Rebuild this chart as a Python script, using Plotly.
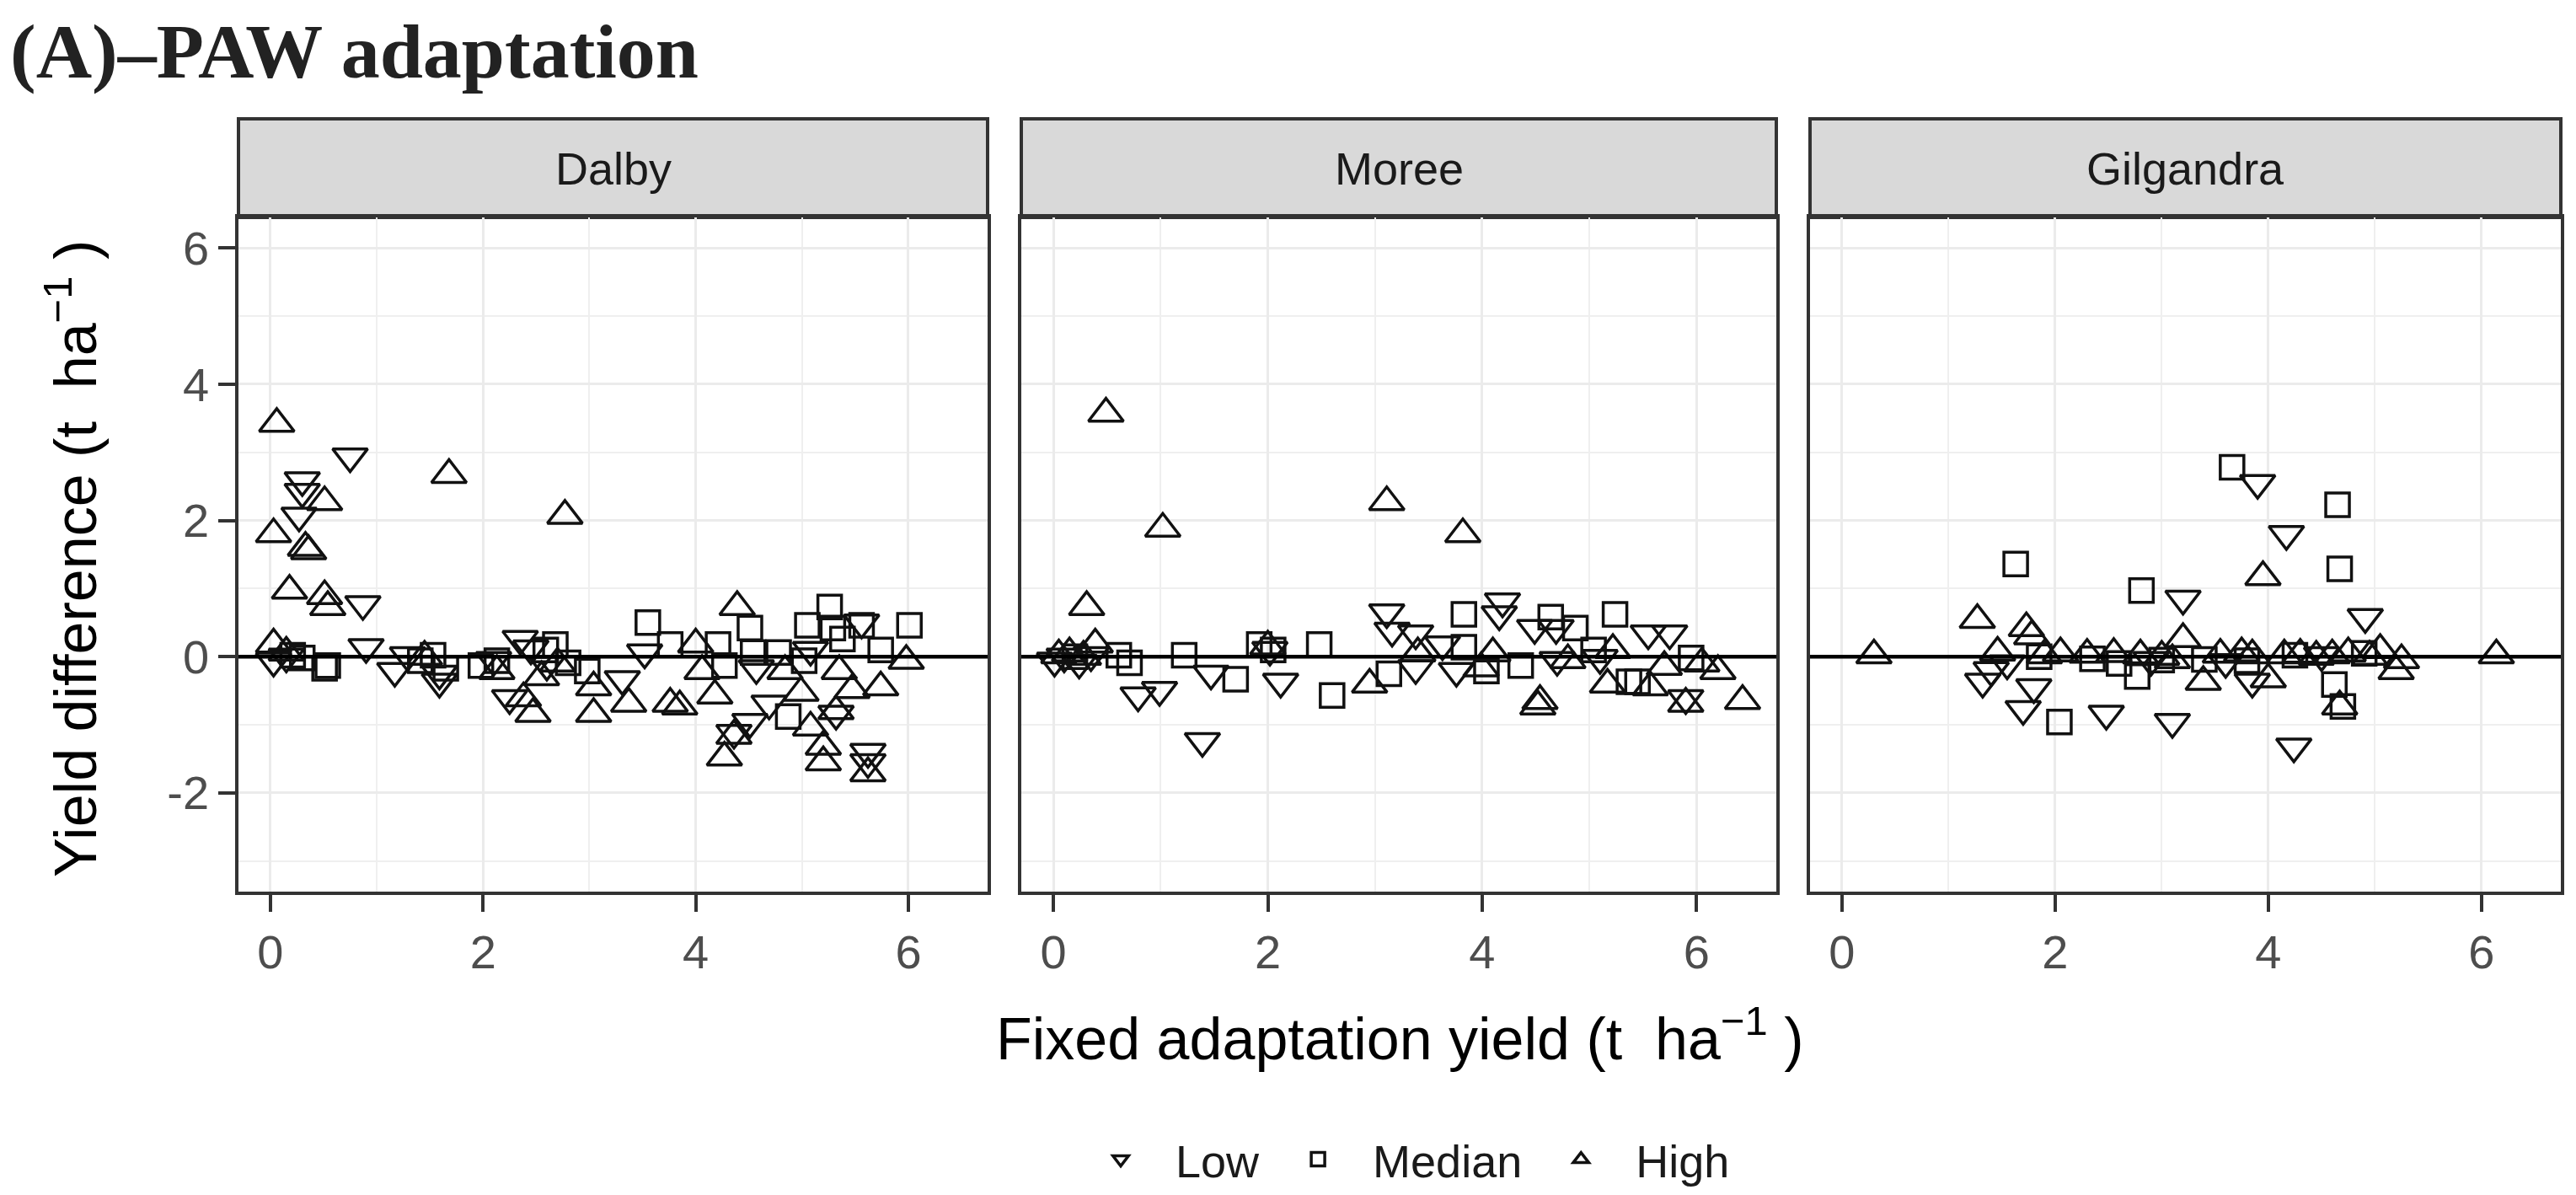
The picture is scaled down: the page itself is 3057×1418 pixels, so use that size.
import plotly.graph_objects as go
from plotly.subplots import make_subplots

# ===== DATA =====
sites = ["Dalby", "Moree", "Gilgandra"]
groups = ["Low", "Median", "High"]
x_ticks = [0, 2, 4, 6]
y_ticks = [-2, 0, 2, 4, 6]
y_tick_labels = ["-2", "0", "2", "4", "6"]

dalby_low_x = [0.03, 0.27, 0.30, 0.30, 0.75, 0.87, 0.90, 1.17, 1.29, 1.59, 1.59, 2.25, 2.35, 2.45,
               3.31, 3.52, 4.57, 4.51, 4.36, 4.69, 5.32, 5.62, 5.62, 0.15, 2.10, 2.60, 5.08, 5.56]
dalby_low_y = [-0.06, 2.07, 2.59, 2.42, 2.94, 0.77, 0.14, -0.21, 0.02, -0.25, -0.37, -0.61, 0.26, 0.12,
               -0.33, 0.06, -0.17, -0.96, -1.12, -0.69, -0.84, -1.40, -1.55, 0.00, -0.05, -0.12, 0.10, 0.50]
dalby_med_x = [0.21, 0.30, 0.51, 0.54, 1.41, 1.53, 1.65, 1.98, 2.13, 2.59, 2.68, 2.80, 2.98, 3.55, 3.76,
               4.21, 4.27, 4.51, 4.54, 4.78, 4.87, 5.02, 5.05, 5.26, 5.29, 5.38, 5.56, 5.74, 6.01]
dalby_med_y = [0.02, -0.02, -0.17, -0.13, -0.06, 0.02, -0.17, -0.13, -0.06, 0.10, 0.18, -0.09, -0.21, 0.50, 0.18,
               0.18, -0.13, 0.42, 0.06, 0.06, -0.88, -0.06, 0.46, 0.73, 0.42, 0.26, 0.46, 0.10, 0.46]
dalby_high_x = [0.06, 0.03, 0.18, 0.33, 0.36, 0.51, 0.51, 0.54, 0.03, 0.15, 1.68, 2.77, 2.13, 2.38, 2.47,
                2.55, 3.04, 3.04, 3.37, 3.76, 3.85, 4.00, 4.06, 4.18, 4.27, 4.36, 4.39, 4.84, 4.99, 5.08,
                5.20, 5.20, 5.32, 5.35, 5.47, 5.62, 5.74, 5.98, 2.70, 1.45]
dalby_high_y = [3.42, 1.80, 0.97, 1.60, 1.55, 2.27, 0.89, 0.73, 0.18, 0.06, 2.67, 2.07, -0.21, -0.61, -0.84,
                -0.30, -0.84, -0.45, -0.69, -0.69, -0.73, 0.18, -0.21, -0.57, -1.48, -1.16, 0.73, -0.21, -0.53, -1.04,
                -1.32, -1.55, -0.80, -0.21, -0.49, -1.71, -0.45, -0.06, -0.10, 0.00]

moree_low_x = [0.01, 0.24, 0.79, 0.99, 1.39, 1.47, 2.12, 3.11, 3.16, 3.38, 3.38, 3.63, 3.76, 4.16, 4.19,
               4.49, 4.69, 4.70, 5.55, 5.75, 5.90, 0.10, 0.35, 2.02, 5.10]
moree_low_y = [-0.06, -0.09, -0.57, -0.49, -1.24, -0.25, -0.37, 0.65, 0.38, 0.34, -0.17, 0.18, -0.21, 0.62, 0.81,
               0.42, 0.42, -0.05, 0.34, 0.34, -0.61, 0.00, 0.02, 0.10, -0.02]
moree_med_x = [0.61, 0.71, 1.22, 1.70, 1.92, 2.05, 2.48, 2.60, 3.13, 3.83, 3.83, 4.04, 4.36, 4.64, 4.87,
               5.04, 5.24, 5.37, 5.45, 5.95, 0.20]
moree_med_y = [0.02, -0.09, 0.02, -0.33, 0.18, 0.10, 0.18, -0.57, -0.25, 0.62, 0.14, -0.21, -0.13, 0.58, 0.42,
               0.10, 0.62, -0.37, -0.37, -0.02, 0.00]
moree_high_x = [0.49, 1.02, 0.31, 3.11, 3.82, 2.95, 4.54, 4.52, 5.17, 5.57, 5.90, 6.43, 6.20, 5.22, 3.99,
                3.40, 0.05, 0.15, 0.28, 0.39, 2.00, 4.10, 4.80, 5.70, 6.05]
moree_high_y = [3.57, 1.88, 0.73, 2.27, 1.80, -0.41, -0.65, -0.73, -0.41, -0.45, -0.69, -0.65, -0.21, 0.10, -0.17,
                0.05, 0.02, 0.05, 0.00, 0.18, 0.15, 0.05, -0.05, -0.15, -0.10]

gil_low_x = [1.32, 1.40, 1.70, 1.80, 2.48, 3.10, 3.20, 3.85, 3.90, 4.17, 4.24, 4.91, 1.55, 2.90, 3.60, 4.50]
gil_low_y = [-0.37, -0.20, -0.77, -0.45, -0.84, -0.96, 0.85, -0.37, 2.55, 1.80, -1.32, 0.58, -0.10, -0.05, -0.08, 0.02]
gil_med_x = [1.63, 2.04, 2.77, 2.81, 3.66, 4.62, 4.65, 4.67, 4.70, 1.85, 2.35, 2.60, 3.00, 3.40, 3.80, 4.25, 4.90]
gil_med_y = [1.36, -0.96, -0.29, 0.97, 2.78, -0.41, 2.23, 1.29, -0.73, 0.00, -0.03, -0.10, -0.05, -0.04, -0.06, 0.02, 0.05]
gil_high_x = [0.30, 1.27, 1.46, 1.73, 1.78, 2.05, 2.30, 2.55, 2.80, 3.00, 3.20, 3.39, 3.55, 3.75, 3.95,
              4.00, 4.15, 4.30, 4.45, 4.60, 4.67, 4.75, 4.95, 5.05, 5.20, 5.25, 6.14, 1.90, 3.10, 3.85]
gil_high_y = [0.02, 0.54, 0.06, 0.42, 0.30, 0.05, 0.03, 0.04, 0.02, 0.00, 0.26, -0.37, 0.03, 0.05, 1.17,
              -0.33, 0.02, 0.03, 0.00, 0.02, -0.73, 0.05, 0.00, 0.10, -0.21, -0.05, 0.02, 0.02, -0.05, 0.02]

site_data = {
    "Dalby": [(dalby_low_x, dalby_low_y), (dalby_med_x, dalby_med_y), (dalby_high_x, dalby_high_y)],
    "Moree": [(moree_low_x, moree_low_y), (moree_med_x, moree_med_y), (moree_high_x, moree_high_y)],
    "Gilgandra": [(gil_low_x, gil_low_y), (gil_med_x, gil_med_y), (gil_high_x, gil_high_y)],
}

# ===== STYLE =====
W, H = 3057, 1418
NB = "\u00a0"
symbols = {"Low": "triangle-down-open", "Median": "square-open", "High": "triangle-up-open"}
sizes = {"Low": 36, "Median": 28, "High": 36}
# legend labels padded so the entries spread out like the ggplot legend
legend_names = {"Low": NB * 3 + "Low" + NB * 3, "Median": NB * 3 + "Median" + NB * 3, "High": NB * 3 + "High"}
panel_px = [(275, 1164), (1204, 2100), (2140, 3031)]
panel_top, panel_bottom, strip_top = 250, 1050, 133
sans = "Liberation Sans, Arial"

fig = make_subplots(rows=1, cols=3)

for c, site in enumerate(sites, start=1):
    for g, (xs, ys) in zip(groups, site_data[site]):
        fig.add_trace(go.Scatter(
            x=xs, y=ys, mode="markers", name=legend_names[g], legendgroup=g,
            showlegend=(c == 1),
            marker=dict(symbol=symbols[g], size=sizes[g], color="#111111",
                        line=dict(width=3.5, color="#111111")),
        ), row=1, col=c)
    fig.add_hline(y=0, line_color="black", line_width=4.5, row=1, col=c)

    x0, x1 = panel_px[c - 1]
    ax = "xaxis" if c == 1 else f"xaxis{c}"
    ay = "yaxis" if c == 1 else f"yaxis{c}"
    fig.layout[ax].update(
        domain=[x0 / W, x1 / W], range=[-0.3, 6.745],
        tickmode="array", tickvals=x_ticks,
        showgrid=True, gridcolor="#EBEBEB", gridwidth=3, zeroline=False,
        minor=dict(tickmode="array", tickvals=[1, 3, 5], showgrid=True, gridcolor="#EFEFEF", gridwidth=1.6),
        showline=True, mirror=True, linecolor="#333333", linewidth=3.5,
        ticks="outside", ticklen=20, tickwidth=4, tickcolor="#333333",
        tickfont=dict(family=sans, size=56, color="#4D4D4D"),
    )
    fig.layout[ay].update(
        domain=[1 - panel_bottom / H, 1 - panel_top / H], range=[-3.45, 6.45],
        tickmode="array", tickvals=y_ticks, ticktext=y_tick_labels,
        showgrid=True, gridcolor="#EBEBEB", gridwidth=3, zeroline=False,
        minor=dict(tickmode="array", tickvals=[-3, -1, 1, 3, 5], showgrid=True, gridcolor="#EFEFEF", gridwidth=1.6),
        showline=True, mirror=True, linecolor="#333333", linewidth=3.5,
        ticks="outside" if c == 1 else "", ticklen=20, tickwidth=4, tickcolor="#333333",
        showticklabels=(c == 1),
        tickfont=dict(family=sans, size=56, color="#4D4D4D"),
    )

    # facet strip
    fig.add_shape(type="rect", xref="paper", yref="paper",
                  x0=x0 / W, x1=x1 / W, y0=1 - panel_top / H, y1=1 - strip_top / H,
                  fillcolor="#D9D9D9", line=dict(color="#333333", width=4), layer="below")
    fig.add_annotation(x=(x0 + x1) / 2 / W, y=1 - (panel_top + strip_top) / 2 / H,
                       xref="paper", yref="paper", text=site, showarrow=False,
                       font=dict(family=sans, size=54, color="#1A1A1A"),
                       xanchor="center", yanchor="middle")

# axis titles and panel title
fig.add_annotation(x=77 / W, y=1 - 655 / H, xref="paper", yref="paper",
                   text="Yield difference (t  ha<sup>−1</sup> )", textangle=-90, showarrow=False,
                   font=dict(family=sans, size=70, color="black"),
                   xanchor="center", yanchor="middle")
fig.add_annotation(x=1653 / W, y=1 - 1220 / H, xref="paper", yref="paper",
                   text="Fixed adaptation yield (t  ha<sup>−1</sup> )", showarrow=False,
                   font=dict(family=sans, size=70, color="black"),
                   xanchor="center", yanchor="middle")
fig.add_annotation(x=2 / W, y=1, xref="paper", yref="paper",
                   text="<b>(A)–PAW adaptation</b>", showarrow=False,
                   font=dict(family="Liberation Serif, Times New Roman", size=92, color="#222222"),
                   xanchor="left", yanchor="top")

fig.update_layout(
    width=W, height=H,
    margin=dict(l=0, r=0, t=0, b=0),
    plot_bgcolor="white", paper_bgcolor="white",
    legend=dict(orientation="h", x=1676 / W, xanchor="center", y=1 - 1368 / H, yanchor="middle",
                font=dict(family=sans, size=54, color="#1A1A1A"),
                bgcolor="rgba(0,0,0,0)"),
)

fig.write_html("out.html")
